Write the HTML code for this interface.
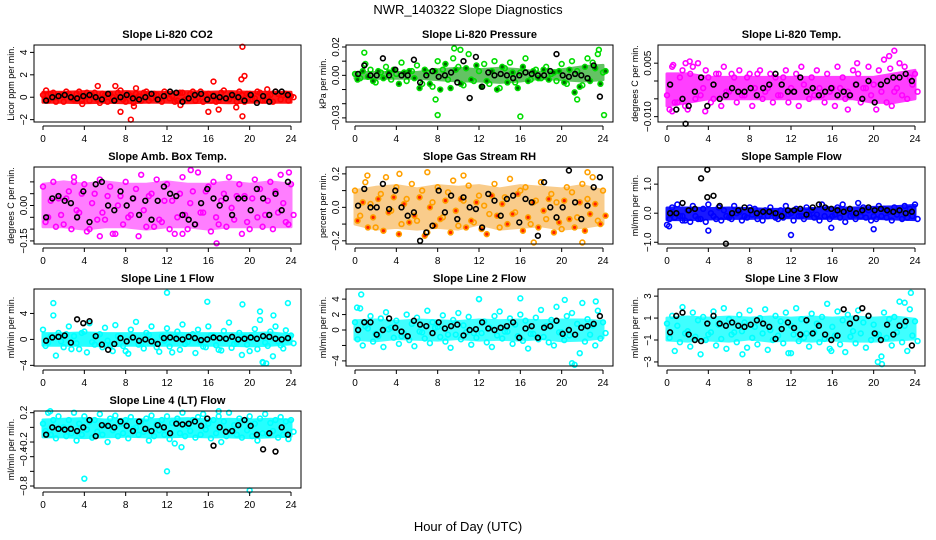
<!DOCTYPE html>
<html><head><meta charset="utf-8"><style>
html,body{margin:0;padding:0;background:#fff}
svg{display:block;font-family:"Liberation Sans",sans-serif}
</style></head><body>
<svg id="chart" width="936" height="540" viewBox="0 0 936 540" xmlns="http://www.w3.org/2000/svg">
<text x="468" y="14" font-size="13" text-anchor="middle">NWR_140322  Slope Diagnostics</text>
<text x="468" y="531" font-size="13" text-anchor="middle">Hour of Day (UTC)</text>
</svg>
<script>
const xTicks = [0,4,8,12,16,20,24];

const titles = ["Slope Li-820 CO2","Slope Li-820 Pressure","Slope Li-820 Temp.","Slope Amb. Box Temp.","Slope Gas Stream RH","Slope Sample Flow","Slope Line 1 Flow","Slope Line 2 Flow","Slope Line 3 Flow","Slope Line 4 (LT) Flow"];
const yTitles = ["Licor ppm per min.","kPa per min.","degrees C per min.","degrees C per min.","percent per min.","ml/min per min.","ml/min per min.","ml/min per min.","ml/min per min.","ml/min per min."];
const yRanges = [[-2.21,4.66],[-0.0329,0.0214],[-0.0115,0.0101],[-0.163,0.163],[-0.219,0.241],[-1.06,1.59],[-4.1,7.77],[-4.66,5.31],[-3.37,3.65],[-0.827,0.223]];
const yTickVals = [[-2,0,2,4],[-0.03,-0.02,-0.01,0,0.01,0.02],[-0.01,-0.005,0,0.005],[-0.15,-0.1,-0.05,0,0.05,0.1],[-0.2,-0.1,0,0.1,0.2],[-1,0,1],[-4,0,4],[-4,-2,0,2,4],[-3,-1,1,3],[-0.8,-0.6,-0.4,-0.2,0,0.2]];
const yTickLabels = [["−2","0","2","4"],["−0.03","","","0.00","","0.02"],["−0.010","","","0.005"],["−0.15","","","0.00","",""],["−0.2","","0.0","","0.2"],["−1.0","0.0","1.0"],["−4","0","4"],["−4","","0","2","4"],["−3","−1","1","3"],["−0.8","","−0.4","−0.2","","0.2"]];
const colors = ["#ff0000","#00dd00","#ff00ff","#ff00ff","#ffa000","#0000ff","#00ffff","#00ffff","#00ffff","#00ffff"];
const fills2 = ["none","#006600","none","none","#ff2000","none","none","none","none","none"];
const bandFill = ["#ff0000","#22aa22","#ff00ff","#ff00ff","#f39000","#0000ff","#00ffff","#00ffff","#00ffff","#00ffff"];
const bandOpacity = [0.9,0.7,0.75,0.5,0.45,0.9,0.85,0.75,0.75,0.85];

const bandHours = [0,2,4,6,8,10,12,14,16,18,20,22,24];
const bandLo = [
[-0.45,-0.45,-0.5,-0.45,-0.5,-0.45,-0.45,-0.5,-0.45,-0.5,-0.45,-0.45,-0.45],
[-0.002,-0.002,-0.002,-0.002,-0.003,-0.004,-0.004,-0.005,-0.004,-0.002,-0.003,-0.004,-0.003],
[-0.007,-0.006,-0.005,-0.005,-0.005,-0.005,-0.005,-0.005,-0.005,-0.005,-0.006,-0.006,-0.005],
[-0.09,-0.09,-0.1,-0.09,-0.09,-0.1,-0.09,-0.09,-0.1,-0.09,-0.09,-0.09,-0.09],
[-0.1,-0.13,-0.12,-0.13,-0.12,-0.13,-0.1,-0.13,-0.12,-0.11,-0.13,-0.12,-0.1],
[-0.22,-0.22,-0.2,-0.18,-0.18,-0.16,-0.16,-0.18,-0.18,-0.18,-0.18,-0.2,-0.22],
[-0.9,-0.9,-0.9,-1.0,-0.9,-0.9,-0.9,-0.9,-0.9,-0.9,-1.0,-0.9,-0.7],
[-1.2,-1.4,-1.1,-1.2,-1.3,-1.1,-1.3,-1.2,-1.3,-1.1,-1.4,-1.3,-1.0],
[-1.0,-1.1,-1.0,-1.1,-0.9,-1.1,-1.0,-1.1,-1.0,-1.1,-1.1,-1.0,-0.9],
[-0.13,-0.13,-0.14,-0.13,-0.12,-0.13,-0.13,-0.12,-0.13,-0.13,-0.14,-0.13,-0.12]
];
const bandHi = [
[0.45,0.45,0.5,0.45,0.5,0.45,0.45,0.5,0.45,0.5,0.45,0.45,0.45],
[0.002,0.002,0.002,0.002,0.004,0.005,0.004,0.005,0.004,0.002,0.004,0.006,0.007],
[0.002,0.002,0.001,0.001,0.001,0.001,0.001,0.001,0.001,0.001,0.001,0.002,0.003],
[0.09,0.1,0.09,0.1,0.09,0.09,0.1,0.09,0.09,0.1,0.09,0.1,0.09],
[0.1,0.12,0.13,0.11,0.13,0.12,0.13,0.11,0.13,0.12,0.11,0.13,0.1],
[0.18,0.18,0.16,0.18,0.16,0.13,0.13,0.16,0.18,0.18,0.2,0.22,0.27],
[0.9,0.9,1.0,0.9,0.9,0.9,1.0,0.9,0.9,0.9,0.9,1.0,0.7],
[1.2,1.3,1.1,1.3,1.2,1.1,1.3,1.2,1.3,1.2,1.3,1.3,1.1],
[1.0,1.1,1.0,1.1,1.0,1.1,1.0,1.1,1.0,1.1,1.0,1.1,0.9],
[0.1,0.11,0.12,0.1,0.11,0.1,0.11,0.12,0.1,0.11,0.1,0.11,0.1]
];

const sA = [
[0.2,-0.3,0.4,0.1,-0.4,0.3,-0.2,0.5,0,-0.3,0.4,-0.5,0.2,0.3,-0.2,0.6,-0.4,0.1,0.3,-0.3,0.5,-0.1,0.2,-0.4,0.3,0.1,-0.3,0.4,-0.2,0.5,0,-0.4,0.3,0.2,-0.3,0.6,-0.2,0.1,0.5,-0.4,0.3,-0.1,0.4,-0.3,0.2,0.5,-0.2,0.3,0.1],
[0.001,-0.002,0.008,0.004,-0.005,0.002,0.006,-0.003,0.001,0.009,-0.004,0.003,0.007,-0.006,0.002,-0.008,0.01,0.004,-0.003,0.012,0.006,-0.007,0.015,-0.004,0.003,0.008,-0.006,0.01,-0.009,0.005,0.009,-0.005,0.002,0.012,-0.003,0.004,-0.002,0.006,0.001,-0.004,0.008,-0.006,0.01,0.003,-0.007,0.012,0.009,0.015,0.002],
[-0.004,0.004,-0.006,0.003,-0.008,0.004,0.005,-0.002,0.001,-0.005,0.002,0.004,-0.003,0.001,0.003,-0.004,0.002,-0.002,0.003,-0.003,0.002,0.001,-0.004,0.003,-0.002,0.002,0.004,-0.003,0.001,0.003,-0.004,0.002,-0.002,0.004,0.001,-0.003,0.003,0.002,-0.002,0.004,-0.001,0.003,0.006,0.007,-0.003,0.005,0.004,0.001,0.002],
[0.08,-0.05,0.1,0.03,-0.08,0.06,0.12,-0.03,0.09,-0.1,0.05,0.11,-0.06,0.08,-0.12,0.04,0.1,-0.04,0.07,0.13,-0.09,0.05,0.11,-0.07,0.09,0.02,-0.05,0.12,-0.1,0.06,0.14,-0.03,0.08,0.1,-0.08,0.05,0.12,-0.06,0.09,0.04,-0.1,0.11,0.07,-0.04,0.1,0.06,0.13,-0.07,0.09],
[0.1,-0.05,0.15,0.02,-0.12,0.08,0.18,-0.02,0.12,-0.1,0.05,0.14,-0.08,0.1,-0.15,0.03,0.12,-0.06,0.09,0.16,-0.11,0.04,0.13,-0.09,0.07,0.01,-0.04,0.14,-0.12,0.06,0.17,-0.03,0.1,0.12,-0.1,0.04,0.15,-0.07,0.08,0.03,-0.13,0.12,0.09,-0.06,0.14,0.05,0.18,-0.08,0.1],
[-0.4,0.2,0.3,-0.1,0.1,0.25,-0.2,0.15,0.3,-0.1,0.2,0.1,-0.15,0.25,0.05,-0.1,0.2,0.15,-0.05,0.1,0.2,-0.15,0.1,0.25,0.0,0.15,-0.1,0.2,0.1,-0.05,0.3,0.15,-0.1,0.2,0.3,0.1,-0.05,0.35,0.2,0.1,-0.1,0.25,0.15,0.05,0.2,0.1,0.25,0.15,0.3],
[1.5,-0.5,3.7,1,-1.2,2,0.5,-1.5,1.2,2.5,-0.8,0.8,1.8,-1,2.2,0.3,-1.8,1.5,2.7,-0.6,1,2,-1.2,0.5,1.7,-2,1.2,2.3,-0.4,0.8,1.5,-1.1,2,0.6,-1.6,1.3,2.6,-0.7,1,0.4,-1.8,1.6,3,-0.5,1.2,2,-0.9,1.4,0.6],
[1,2.8,0.5,1.8,-0.5,1.5,2.3,0.3,1.2,-0.8,2,0.8,1.6,-0.3,2.5,1,0.4,1.9,-0.6,1.3,2.2,0.6,1.7,-0.4,4,1.1,0.3,1.8,2.4,-0.2,1.5,0.7,2,1.2,-0.5,1.6,2.6,0.5,1.3,3,-0.3,1.8,2.2,0.8,3.5,1.4,0.6,2.5,1],
[0.5,1.2,0.3,2,-0.2,1.5,0.8,1.1,-0.5,1.6,0.4,1.9,0.9,-0.3,1.3,0.6,1.7,0.2,1,1.8,-0.1,1.2,0.7,1.5,0.3,1.9,0.9,-0.4,1.4,0.5,1.1,2.3,0.2,1.6,0.8,1.3,-0.2,1.7,0.6,1.2,0.4,-0.5,1.5,0.9,1.1,2.5,0.3,1.8,0.7],
[0.05,0.2,0.1,0.15,0.0,0.1,0.2,0.05,0.15,0.08,0.1,0.18,0.03,0.12,0.16,0.05,0.1,0.14,0.0,0.08,0.12,0.16,0.04,0.1,0.15,0.06,0.12,0.2,0.02,0.1,0.14,0.18,0.05,0.1,0.15,0.08,0.2,0.03,0.12,0.1,0.15,0.05,0.12,0.18,0.06,0.1,0.14,0.08,0.1]
];
const sB = [
[-0.2,0.3,-0.4,0.2,0.5,-0.1,0.3,-0.3,0.4,0.2,-0.2,0.3,-0.4,0,0.4,-0.2,0.3,-0.5,0.1,0.4,-0.3,0.3,-0.2,0.5,-0.1,-0.4,0.4,-0.2,0.3,-0.3,0.5,0.2,-0.3,-0.4,0.4,-0.1,0.3,-0.4,0.2,0.3,-0.2,0.5,-0.3,0.1,-0.4,0.3,0.2,-0.3,0],
[-0.003,0.003,-0.001,-0.004,0.003,-0.002,0.002,0.004,-0.006,0.002,0.003,-0.002,-0.009,0.004,-0.006,0.003,-0.01,0.008,-0.009,0.004,-0.006,0.005,-0.003,0.007,-0.008,-0.004,0.003,-0.01,0.006,-0.005,0.002,-0.009,0.006,-0.004,0.003,-0.002,0.004,-0.003,0.002,0.003,-0.005,0.004,-0.012,-0.008,0.006,-0.004,0.005,-0.006,0.003],
[-0.008,-0.006,0.001,-0.007,0.002,-0.005,-0.004,0.003,-0.006,0.002,-0.007,-0.003,0.002,-0.006,-0.004,0.001,-0.007,0.002,-0.005,-0.002,-0.006,-0.004,0.001,-0.006,-0.003,-0.007,-0.001,-0.005,-0.004,-0.002,-0.006,-0.003,-0.007,-0.002,-0.005,-0.004,-0.001,-0.006,-0.002,-0.004,-0.008,-0.003,-0.006,-0.007,-0.002,-0.004,-0.005,-0.001,-0.003],
[-0.07,0.02,-0.09,-0.04,0.03,-0.1,-0.02,0.05,-0.11,0.01,-0.06,-0.03,0.04,-0.12,0.0,-0.08,-0.05,0.03,-0.13,-0.02,0.04,-0.09,-0.06,0.02,-0.1,-0.12,0.05,-0.04,0.01,-0.08,-0.03,0.06,-0.11,-0.05,0.02,-0.09,-0.01,0.04,-0.12,-0.07,0.03,-0.05,-0.09,0.02,-0.1,-0.03,0.01,-0.08,-0.04],
[-0.08,0.03,-0.12,-0.06,0.05,-0.14,-0.03,0.06,-0.16,0.02,-0.09,-0.05,0.06,-0.17,0.0,-0.11,-0.07,0.04,-0.15,-0.02,0.05,-0.12,-0.08,0.03,-0.13,-0.16,0.07,-0.05,0.02,-0.1,-0.04,0.08,-0.14,-0.06,0.03,-0.12,-0.02,0.05,-0.15,-0.09,0.04,-0.07,-0.12,0.03,-0.14,-0.04,0.02,-0.1,-0.05],
[-0.2,-0.15,-0.1,-0.25,-0.3,-0.1,-0.2,-0.3,0.0,-0.2,-0.25,-0.1,-0.2,0.0,-0.25,-0.15,-0.05,-0.2,-0.25,-0.1,0.0,-0.2,-0.15,-0.05,-0.25,-0.1,-0.2,-0.05,-0.15,-0.25,-0.1,-0.2,-0.05,-0.15,-0.3,-0.1,-0.2,-0.1,-0.15,-0.25,-0.2,-0.1,-0.15,-0.25,-0.05,-0.2,-0.15,-0.1,-0.2],
[-1,0.5,-2.5,-0.3,0.8,-1.5,-0.6,1,-2,-0.4,0.6,-1.2,-0.2,-1.8,0.5,-1,-2.2,0.3,-0.8,-1.4,0.7,-0.5,-1.9,-0.2,-1.1,0.4,-1.6,-0.7,0.2,-2.1,-0.4,-1.2,0.6,-0.9,-1.7,0.1,-1.3,-0.5,-2.4,-0.8,0.3,-1.5,-3.5,-1,-2.6,-0.3,-1.4,0.2,-0.6],
[-1.2,-2,0.2,-1.5,-0.8,-2.2,0.1,-1,-1.8,-0.5,-1.3,-2.1,-0.2,-1.1,-1.7,0.3,-0.9,-1.5,-2.3,-0.6,-1.2,-0.3,-1.9,-1,-0.4,-1.6,-2.2,-0.7,-1.1,-0.2,-1.8,-0.8,-1.4,-2.4,-0.5,-1.2,-0.9,-1.6,-2,-0.3,-1.3,-0.7,-4.5,-3,-1.5,-0.6,-2,-1.1,-0.4],
[-0.8,-2,-1.2,-0.4,-1.6,-0.7,-2.3,-1,-0.3,-1.5,-0.9,-1.8,-0.5,-1.2,-0.2,-1.7,-0.8,-1.4,-0.4,-1.9,-1,-0.6,-1.3,-2.2,-0.5,-1.1,-0.8,-1.6,-0.3,-1.2,-0.9,-1.8,-0.6,-1.4,-2.1,-0.7,-1.3,-0.4,-1.7,-1,-0.5,-2.5,-0.8,-1.5,-0.3,-1.2,-2,-0.6,-1.1],
[-0.05,-0.1,-0.15,-0.02,-0.12,-0.08,-0.18,-0.1,-0.03,-0.14,-0.06,-0.1,-0.2,-0.04,-0.12,-0.08,-0.15,-0.02,-0.1,-0.06,-0.18,-0.12,-0.04,-0.1,-0.16,-0.22,-0.08,-0.12,-0.05,-0.14,-0.1,-0.03,-0.15,-0.08,-0.2,-0.12,-0.06,-0.1,-0.14,-0.04,-0.12,-0.18,-0.08,-0.1,-0.05,-0.14,-0.1,-0.16,-0.06]
];
const sOut = [
[[19.3,4.5],[19.5,1.9],[19.2,1.6],[16.5,1.4],[8.5,-2],[7.5,-1.3],[16,-1.3],[19.3,-1.7],[17,-1.1],[7,1],[5.3,1],[9,0.8],[18.7,-0.9],[8.8,-0.8],[13.3,-0.7],[0.3,0.6],[21.7,0.7],[3.8,-0.6]],
[[8,-0.028],[16,-0.029],[24.1,-0.028],[9.6,0.019],[10.2,0.018],[7.8,-0.017],[21.5,-0.017],[0.9,0.016],[23.6,0.018]],
[[0.6,0.0045],[1.8,0.005],[2.2,0.0055],[18.4,0.005],[22,0.0085],[21.6,0.0035],[3.7,-0.0085],[17.5,-0.008],[0.5,-0.0085]],
[[14.3,0.15],[16.8,-0.16],[5.5,-0.13],[3,0.1],[23.8,0.14],[13.5,-0.12]],
[[1.2,0.19],[4.3,0.2],[7,0.21],[17.3,-0.21],[22,-0.21],[10.5,0.19],[22.5,0.21]],
[[4,-0.6],[12,-0.75],[15.9,-0.5],[20,-0.55],[0.2,-0.45],[1.5,-0.25]],
[[12,7.2],[1,5.6],[15.9,5.8],[19.3,5.4],[23.7,5.6],[21,4.3],[21.3,-3.6],[21.6,-3.7],[22.3,3.7]],
[[0.2,2.9],[0.6,4.6],[16,4.1],[20.3,3.9],[23.3,3.7],[12,4],[21,-4.3]],
[[23.6,3.3],[23,2.4],[20.4,-3],[20.8,-3.2],[12,-2.2],[7.3,-2.3],[15.9,-2]],
[[4,-0.7],[12,-0.6],[20,-0.86],[13.4,-0.27],[0.7,0.22],[17,0.22]]
];
const sK = [
[-0.3,0,0.1,0.2,0,-0.1,0.1,0.2,0,-0.2,0.3,-0.3,0,0.2,-0.1,-0.2,0,0.3,-0.2,0.1,0.5,0.4,-0.4,-0.1,0.2,0.3,-0.2,0.1,0,-0.1,0.2,0,-0.3,0.2,-0.5,0.1,-0.4,0.5,0.5,0.2],
[0.001,0.007,0,0,0.012,0,0.004,0,0,0.011,-0.005,0,0.003,-0.001,0,0.002,-0.005,0.01,-0.016,0.013,-0.008,0.002,0,0.001,0,-0.002,0,0.002,0.001,0,0,0.003,0.015,0,-0.001,0.001,0,-0.002,0.007,-0.015],
[-0.001,-0.008,-0.005,-0.007,-0.003,0.001,-0.007,-0.001,-0.005,-0.004,-0.002,-0.003,-0.003,-0.002,-0.004,-0.002,-0.001,0.002,-0.001,-0.003,-0.003,0.001,-0.003,-0.002,-0.004,-0.003,-0.002,-0.004,-0.003,-0.004,-0.001,-0.005,0,-0.006,-0.001,0,0.001,0.001,0.002,0],
[-0.05,0.03,0.04,0.02,0.01,-0.05,0.06,-0.07,0.09,0.1,0,-0.02,0.06,0,0.03,-0.04,0.02,-0.06,0.02,0.08,0.05,0.04,-0.04,-0.06,-0.08,0.01,0.07,0.03,0,0.03,-0.04,0.03,0.03,-0.02,0.07,0.03,-0.04,0.05,-0.02,0.1],
[0.01,0.11,0,0,0.14,-0.01,0.1,0,-0.05,-0.03,-0.2,-0.15,-0.11,0.1,-0.03,0.07,-0.07,0.06,0,-0.01,-0.12,0.08,0.04,-0.05,0.05,0.07,-0.09,0.05,0.03,-0.17,0.15,0,-0.06,0,0.22,0.03,-0.07,0.01,0.12,0.18],
[0,0,0.35,0.1,0.15,1.2,0.55,0.6,0.25,-1.05,0,0.1,0.2,0.1,0,0.05,0.05,0,-0.1,0.1,0.1,0.15,-0.05,0.2,0.3,0.2,0.15,0.1,0.05,0.15,0,0.1,0.2,0.1,0.15,0.1,0.05,0.1,0,0.05],
[-0.2,0.3,0.4,0.6,-0.5,3.1,2.5,2.8,0.5,-0.8,-1.6,-0.7,0.2,-0.3,0.3,-0.2,0,-0.3,-0.7,0.2,0.3,0.1,0,0.4,0.2,-0.1,0,0.3,0.2,0.1,0.4,0,0.1,0.3,0.1,0.5,0.4,0.1,0,0.2],
[0,1,1,-0.6,0,1.5,0.3,-0.2,-0.8,1.2,0.7,0.5,-0.4,1,0.2,0.5,0.7,-0.7,0,0.1,1,0.2,0,0.3,0.5,1,-1,0.2,0.5,-1,0.3,0.5,1.2,-0.5,0,-0.6,0.3,0.5,0.8,1.8],
[-0.3,1.2,1.5,-0.5,-1,-1.1,0.5,1.2,0.5,0.3,0.6,0.3,0.2,0.4,0.8,0.5,0.2,-0.9,0,0.6,0.1,-0.5,0.8,-0.4,0.3,-0.5,-1,-0.6,1.8,0.5,1,1.9,1.2,-0.4,-1,0.4,-0.5,0.3,0.7,-1.5],
[-0.1,0,-0.02,-0.03,-0.02,-0.05,0,0.1,-0.12,0.03,0.02,0,0.08,0.02,-0.05,0.08,-0.02,-0.05,0.03,0,-0.08,0.05,0.04,0.05,0.08,0.02,0.12,-0.25,0,-0.06,-0.05,0.03,0.1,0.02,-0.1,-0.3,-0.08,-0.33,0,-0.1]
];
const kOut = [[],[],[[1.8,-0.012]],[],[],[[3.9,1.5]],[],[],[],[]];

const NS = "http://www.w3.org/2000/svg";
const svg = document.getElementById("chart");
function mk(tag, attrs, parent){ const e=document.createElementNS(NS,tag); for(const k in attrs) e.setAttribute(k,attrs[k]); (parent||svg).appendChild(e); return e; }

const BW = 267, BH = 77, R = 2.4, SW = 1.6;
for (let p = 0; p < titles.length; p++) {
  const col = p % 3, row = Math.floor(p / 3);
  const bx = 34 + col * 312, by = 45 + row * 122;
  const g = mk("g", {});
  
  
  const [y0, y1] = yRanges[p];
  const X = h => 43 + col * 312 + h / 24 * 248;
  const Y = v => by + BH - (v - y0) / (y1 - y0) * BH;

  const t = mk("text", {x: bx + BW / 2, y: by - 7, "font-size": 11, "font-weight": "bold", "text-anchor": "middle"}, g);
  t.textContent = titles[p];
  
  

  let d = "";
  bandHours.forEach((h, i) => { d += (i ? "L" : "M") + X(h).toFixed(1) + "," + Y(bandHi[p][i]).toFixed(1); });
  for (let i = bandHours.length - 1; i >= 0; i--) d += "L" + X(bandHours[i]).toFixed(1) + "," + Y(bandLo[p][i]).toFixed(1);
  d += "Z";
  const band = mk("path", {d: d, fill: bandFill[p], stroke: bandFill[p], "stroke-width": 3, "stroke-linejoin": "round", opacity: bandOpacity[p]}, g);
  
  

  const ps = mk("g", {}, g);
  
  
  sA[p].forEach((v, i) => {
    const c = mk("circle", {cx: X(i * 0.5), cy: Y(v), r: R, fill: "none", stroke: colors[p], "stroke-width": SW}, ps);
    
    
  });
  sB[p].forEach((v, i) => {
    const c = mk("circle", {cx: X(i * 0.5 + 0.25), cy: Y(v), r: R, fill: fills2[p], stroke: colors[p], "stroke-width": SW}, ps);
    
    
  });
  sOut[p].forEach(o => {
    const c = mk("circle", {cx: X(o[0]), cy: Y(o[1]), r: R, fill: "none", stroke: colors[p], "stroke-width": SW}, ps);
    
    
  });
  sK[p].forEach((v, i) => {
    const c = mk("circle", {cx: X(i * 0.6 + 0.3), cy: Y(v), r: R, fill: "none", stroke: "#000", "stroke-width": SW}, ps);
    
    
  });
  kOut[p].forEach(o => {
    const c = mk("circle", {cx: X(o[0]), cy: Y(o[1]), r: R, fill: "none", stroke: "#000", "stroke-width": SW}, ps);
    
    
  });

  const box = mk("rect", {x: bx, y: by, width: BW, height: BH, fill: "none", stroke: "#000", "stroke-width": 1}, g);
  
  

  const xa = mk("line", {x1: X(0), x2: X(24), y1: by + BH + 4, y2: by + BH + 4, stroke: "#000"}, g);
  
  
  xTicks.forEach(h => {
    mk("line", {x1: X(h), x2: X(h), y1: by + BH + 4, y2: by + BH + 8, stroke: "#000"}, g);
    const tl = mk("text", {x: X(h), y: by + BH + 20, "font-size": 10, "text-anchor": "middle"}, g);
    tl.textContent = h;
    
    
  });
  const tv = yTickVals[p];
  const ya = mk("line", {x1: bx, x2: bx, y1: Y(tv[0]), y2: Y(tv[tv.length - 1]), stroke: "#000"}, g);
  
  
  tv.forEach((v, i) => {
    mk("line", {x1: bx - 4, x2: bx, y1: Y(v), y2: Y(v), stroke: "#000"}, g);
    if (yTickLabels[p][i]) {
      const yl = mk("text", {transform: `translate(${bx - 7},${Y(v)}) rotate(-90)`, "font-size": 10, "text-anchor": "middle"}, g);
      yl.textContent = yTickLabels[p][i];
      
      
    }
  });
  const yt = mk("text", {transform: `translate(${bx - 20},${by + BH / 2}) rotate(-90)`, "font-size": 9, "text-anchor": "middle"}, g);
  yt.textContent = yTitles[p];
  
  
}
</script>
</body></html>
